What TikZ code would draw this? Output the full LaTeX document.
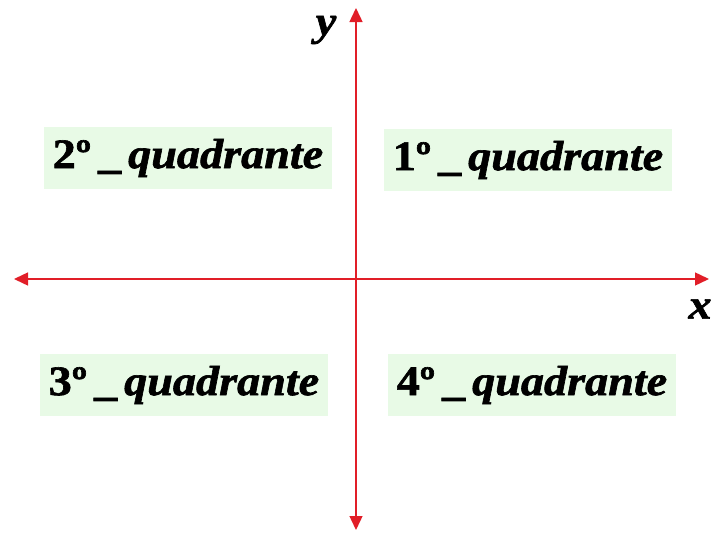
\documentclass[tikz,border=0pt]{standalone}
\usepackage{fontspec}
\setmainfont{Liberation Serif}
\newfontfamily\quadfont[FakeStretch=1.1,FakeBold=1.5]{Liberation Serif}
\usetikzlibrary{arrows.meta}
\definecolor{axisred}{RGB}{225,30,40}
\definecolor{quadgreen}{RGB}{232,250,230}
\tikzset{quadlab/.style={fill=quadgreen,font=\quadfont\fontsize{42}{48}\selectfont\bfseries,
           minimum width=288pt,minimum height=62pt,inner sep=0pt},
         axisline/.style={draw=axisred,line width=1.4pt,{Triangle[length=14pt,width=13pt]}-{Triangle[length=14pt,width=13pt]}},
         axislab/.style={font=\quadfont\fontsize{42}{48}\selectfont\bfseries\itshape}}

\begin{document}
\begin{tikzpicture}[x=1pt,y=-1pt]
  \useasboundingbox (0,0) rectangle (713,538);
  % quadrant labels
  \node[quadlab] (q2) at (188,158) {2º\,\_\,\textit{quadrante}};
  \node[quadlab] (q1) at (528,160) {1º\,\_\,\textit{quadrante}};
  \node[quadlab] (q3) at (184,385) {3º\,\_\,\textit{quadrante}};
  \node[quadlab] (q4) at (532,385) {4º\,\_\,\textit{quadrante}};
  % axes
  \coordinate (xl) at (14,279); \coordinate (xr) at (709,279);
  \coordinate (yt) at (356,8); \coordinate (yb) at (356,530);
  \draw[axisline] (xl) -- (xr);
  \draw[axisline] (yb) -- (yt);
  \node[axislab] (xlab) at (700,309) {x};
  \node[axislab] (ylab) at (326,30) {y};
\end{tikzpicture}
\end{document}
